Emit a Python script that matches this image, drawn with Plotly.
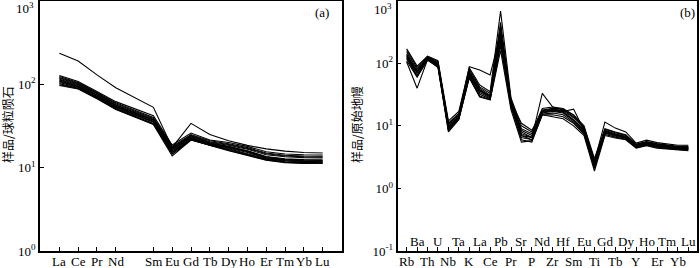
import plotly.graph_objects as go

# ---------------- data ----------------
ree_elements = ["La", "Ce", "Pr", "Nd", "Sm", "Eu", "Gd", "Tb", "Dy", "Ho", "Er", "Tm", "Yb", "Lu"]

# chondrite-normalised REE patterns (one list per sample)
ree_samples = [
    [236, 190, 130, 91, 53, 17.5, 34, 25, 21, 18.5, 16.8, 15.8, 15.2, 15.0],
    [128, 108, 82, 62, 42, 18.7, 26.0, 21.5, 20.0, 18.0, 15.5, 14.6, 14.3, 14.2],
    [124, 105, 80, 60, 40, 18.0, 25.0, 21.0, 19.4, 17.4, 15.0, 14.1, 13.8, 13.7],
    [121, 103, 78, 58.5, 39, 17.5, 24.5, 20.5, 19.0, 17.0, 14.7, 13.8, 13.5, 13.4],
    [118, 101, 77, 57, 38, 17.0, 24.0, 20.0, 18.6, 16.6, 14.3, 13.5, 13.2, 13.1],
    [115, 99, 75, 56, 37.5, 16.8, 23.5, 19.8, 18.0, 16.0, 13.6, 12.8, 12.5, 12.4],
    [113, 97, 74, 55, 37, 16.5, 23.0, 19.5, 17.8, 15.8, 13.4, 12.6, 12.3, 12.2],
    [110, 95, 72, 54, 36, 16.0, 22.8, 19.2, 17.5, 15.5, 13.2, 12.4, 12.1, 12.0],
    [108, 93, 71, 53, 35.5, 15.5, 22.5, 19.0, 17.2, 15.2, 13.0, 12.2, 11.9, 11.8],
    [105, 92, 70, 52, 35, 15.2, 22.0, 18.8, 16.9, 14.8, 12.8, 12.0, 11.7, 11.7],
    [102, 90, 69, 51, 34, 15.0, 21.8, 18.6, 16.5, 14.5, 12.6, 11.8, 11.5, 11.5],
    [99, 89, 68, 50.5, 33.5, 14.5, 21.5, 18.5, 16.2, 14.2, 12.4, 11.6, 11.3, 11.3],
    [97, 88, 67, 50, 33, 13.8, 21.5, 18.5, 16.0, 14.0, 12.3, 11.5, 11.2, 11.3],
]

spider_elements = ["Rb", "Ba", "Th", "U", "Nb", "Ta", "K", "La", "Ce", "Pb", "Pr", "Sr", "P", "Nd",
                   "Zr", "Hf", "Sm", "Eu", "Ti", "Gd", "Tb", "Dy", "Y", "Ho", "Er", "Tm", "Yb", "Lu"]

# primitive-mantle-normalised trace element patterns
spider_samples = [
    [170, 90, 130, 110, 12, 17, 85, 45, 35, 680, 28, 10, 8, 19, 20, 19, 15, 10, 3.0, 9.0, 8.0, 7.2, 5.1, 5.6, 5.2, 4.9, 4.7, 4.7],
    [160, 85, 128, 105, 11, 16, 80, 42, 33, 450, 26, 9, 7.5, 18, 19, 18.5, 14, 9.5, 2.8, 8.8, 7.8, 7.0, 5.0, 5.5, 5.1, 4.8, 4.6, 4.6],
    [150, 80, 125, 100, 10.5, 15, 75, 40, 31, 380, 25, 8.5, 7, 17.5, 18.5, 17.5, 13.5, 9, 2.6, 8.5, 7.5, 6.8, 4.9, 5.4, 5.0, 4.7, 4.5, 4.5],
    [140, 75, 122, 98, 10, 14.5, 70, 38, 30, 330, 24, 8, 6.5, 17, 18, 17, 18.5, 8.5, 2.5, 8.3, 7.3, 6.6, 4.8, 5.3, 4.9, 4.6, 4.4, 4.4],
    [130, 70, 120, 95, 9.5, 14, 68, 36, 29, 280, 23, 7.5, 6.5, 16.5, 17.5, 16.5, 12.5, 8.2, 2.4, 8.0, 7.1, 6.5, 4.7, 5.2, 4.8, 4.5, 4.4, 4.3],
    [125, 65, 118, 92, 9, 13.5, 65, 34, 28, 250, 22, 7, 6, 16, 17, 16, 12, 8, 2.3, 7.8, 7.0, 6.4, 4.7, 5.1, 4.7, 4.5, 4.3, 4.3],
    [118, 62, 115, 90, 8.5, 13, 62, 32, 27, 220, 21, 6.5, 6, 15.5, 16, 15, 11.5, 7.7, 2.2, 7.6, 6.8, 6.3, 4.6, 5.0, 4.6, 4.4, 4.2, 4.2],
    [110, 60, 112, 88, 8, 12.5, 60, 30, 26, 190, 20, 6, 5.5, 15, 15, 14, 11, 7.4, 2.1, 7.3, 6.6, 6.1, 4.5, 4.9, 4.5, 4.3, 4.2, 4.1],
    [105, 40, 115, 85, 8.5, 13, 58, 29, 26, 160, 18, 5.5, 5.8, 15, 14, 13, 10, 7, 1.9, 7.0, 6.4, 6.0, 4.4, 4.8, 4.4, 4.3, 4.1, 4.0],
    [120, 75, 125, 100, 11, 15, 88, 78, 65, 300, 22, 7, 6.5, 33, 20, 18, 15, 9.5, 2.7, 11.5, 9.2, 8.0, 5.3, 5.9, 5.4, 5.1, 4.9, 4.9],
    [135, 72, 120, 96, 9.5, 14, 72, 37, 29, 230, 24, 11, 8.5, 17, 18, 17, 12.5, 8.6, 2.5, 8.2, 7.2, 6.6, 4.8, 5.3, 4.9, 4.6, 4.4, 4.4],
]

ytick_a = ["10<sup>0</sup>", "10<sup>1</sup>", "10<sup>2</sup>"]
ytop_a = "10<sup>3</sup>"
ytick_b = ["10<sup>-1</sup>", "10<sup>0</sup>", "10<sup>1</sup>", "10<sup>2</sup>"]
ytop_b = "10<sup>3</sup>"

# ---------------- figure ----------------
W, H = 700, 268
SERIF = "Liberation Serif, Times New Roman, serif"
CJK = "Noto Sans CJK SC"
TXT = dict(family=SERIF, size=13, color="black")

# REE positions: gap for Pm after Nd
ree_x = [i if i < 4 else i + 1 for i in range(len(ree_elements))]
spider_x = list(range(len(spider_elements)))

fig = go.Figure()
for s in ree_samples:
    fig.add_trace(go.Scatter(x=ree_x, y=s, mode="lines", line=dict(color="black", width=1.1),
                             xaxis="x", yaxis="y", showlegend=False, hoverinfo="skip"))
for s in spider_samples:
    fig.add_trace(go.Scatter(x=spider_x, y=s, mode="lines", line=dict(color="black", width=1.1),
                             xaxis="x2", yaxis="y2", showlegend=False, hoverinfo="skip"))

def px(v):
    return v / W

def py(v):
    return (H - v) / H

axis_common = dict(showline=True, linecolor="black", linewidth=1.5, mirror=True,
                   ticks="inside", ticklen=4, tickwidth=1.2, tickcolor="black",
                   showgrid=False, zeroline=False, automargin=False,
                   tickfont=TXT)

fig.update_layout(
    template="none",
    width=W, height=H,
    margin=dict(l=0, r=0, t=0, b=0, pad=0),
    paper_bgcolor="white", plot_bgcolor="white",
    xaxis=dict(domain=[px(40), px(342)], range=[-1.03, 15.03], anchor="y",
               tickmode="array", tickvals=ree_x, showticklabels=False, **axis_common),
    yaxis=dict(domain=[py(251), py(1)], type="log", range=[0, 3], anchor="x",
               tickmode="array", tickvals=[1, 10, 100], ticktext=ytick_a, **axis_common),
    xaxis2=dict(domain=[px(397.5), px(697)], range=[-0.88, 27.83], anchor="y2",
                tickmode="array", tickvals=spider_x, showticklabels=False, **axis_common),
    yaxis2=dict(domain=[py(251), py(0.7)], type="log", range=[-1, 3], anchor="x2",
                tickmode="array", tickvals=[0.1, 1, 10, 100], ticktext=ytick_b, **axis_common),
)

ann = []
# REE category labels
for xi, e in zip(ree_x, ree_elements):
    ann.append(dict(x=xi, xref="x", y=py(261), yref="paper", text=e, showarrow=False,
                    font=TXT, xanchor="center", yanchor="middle"))
# spider labels: lower row below the axis, upper row just inside the plot
for i, e in enumerate(spider_elements):
    yy = 261 if i % 2 == 0 else 241
    ann.append(dict(x=i, xref="x2", y=py(yy), yref="paper", text=e, showarrow=False,
                    font=TXT, xanchor="center", yanchor="middle"))
# top y labels (shifted down to stay inside the picture)
ann.append(dict(x=px(36), y=py(8), xref="paper", yref="paper", text=ytop_a, showarrow=False,
                font=TXT, xanchor="right", yanchor="middle"))
ann.append(dict(x=px(394), y=py(9), xref="paper", yref="paper", text=ytop_b, showarrow=False,
                font=TXT, xanchor="right", yanchor="middle"))
# panel labels
ann.append(dict(x=px(322), y=py(13), xref="paper", yref="paper", text="(a)", showarrow=False,
                font=TXT, xanchor="center", yanchor="middle"))
ann.append(dict(x=px(687), y=py(12), xref="paper", yref="paper", text="(b)", showarrow=False,
                font=TXT, xanchor="center", yanchor="middle"))
# y-axis titles
ann.append(dict(x=px(8), y=py(125), xref="paper", yref="paper", text="样品/球粒陨石", showarrow=False,
                textangle=-90, font=dict(family=CJK, size=12, color="black"),
                xanchor="center", yanchor="middle"))
ann.append(dict(x=px(357), y=py(125), xref="paper", yref="paper", text="样品/原始地幔", showarrow=False,
                textangle=-90, font=dict(family=CJK, size=12, color="black"),
                xanchor="center", yanchor="middle"))
fig.update_layout(annotations=ann)

fig.write_html("out.html", config={"displayModeBar": False},
               post_script="document.body.style.margin='0';")
